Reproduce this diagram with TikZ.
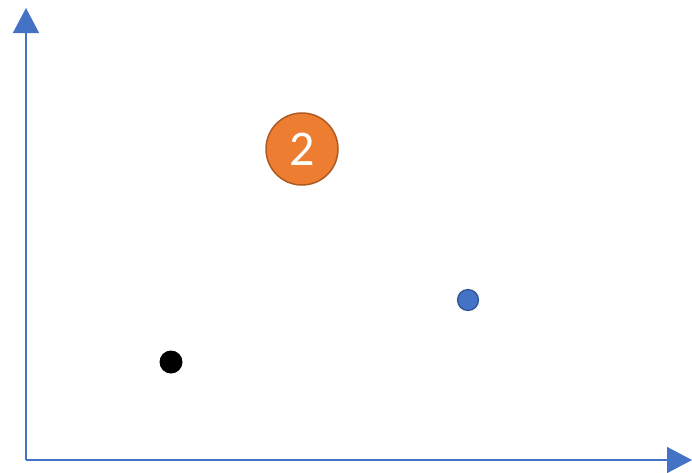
\documentclass[tikz,border=0pt]{standalone}
\usepackage{fontspec}
\setsansfont{Carlito}
\usetikzlibrary{arrows.meta, positioning}

\definecolor{axisblue}{HTML}{4472C4}
\definecolor{dotblue}{HTML}{4472C4}
\definecolor{dotblueline}{HTML}{2F528F}
\definecolor{clusterorange}{HTML}{ED7D31}
\definecolor{clusterline}{HTML}{AE5A21}

\begin{document}
\begin{tikzpicture}[
    x=1pt, y=-1pt,
    axis/.style={-{Triangle[length=25pt, width=26pt]}, line width=1.5pt, color=axisblue},
    cluster/.style={circle, draw=clusterline, line width=1.5pt, fill=clusterorange, minimum size=72pt, inner sep=0pt, text=white, font=\sffamily\fontsize{50}{50}\selectfont},
    blue_point/.style={circle, draw=dotblueline, line width=1.2pt, fill=dotblue, minimum size=21pt, inner sep=0pt},
    black_point/.style={circle, fill=black, minimum size=23pt, inner sep=0pt}
]
\useasboundingbox (0,0) rectangle (692,472);

% Ejes
\coordinate (O) at (26,460);
\coordinate (ytop) at (26,8);
\coordinate (xend) at (692,460);
\draw[axis] (O) -- (ytop);
\draw[axis] (O) -- (xend);

% Puntos
\node[cluster] (c2) at (302,149) {2};
\node[blue_point] (p1) at (468,300) {};
\node[black_point] (p2) at (171,362) {};

\end{tikzpicture}
\end{document}
